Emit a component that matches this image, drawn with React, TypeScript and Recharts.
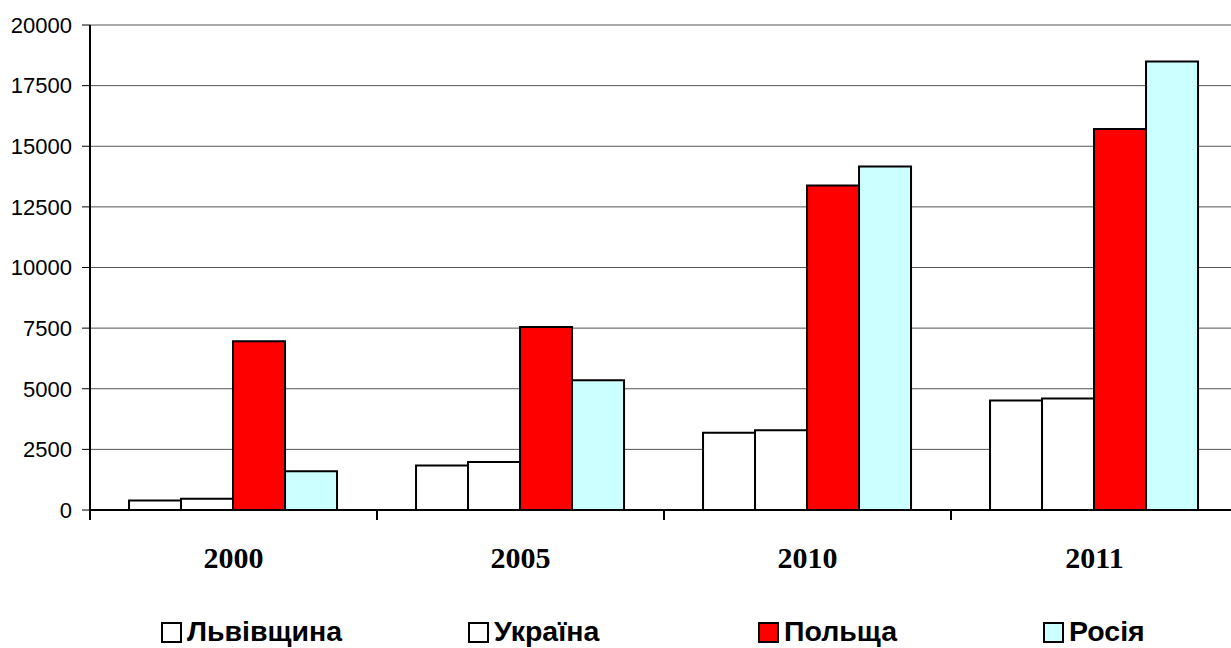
import React from 'react';
import { BarChart, Bar, XAxis, YAxis, CartesianGrid, Legend } from 'recharts';

const years = ['2000', '2005', '2010', '2011'];
const lvivValues = [390, 1840, 3190, 4520];
const ukraineValues = [460, 1980, 3290, 4600];
const polandValues = [6960, 7550, 13380, 15710];
const russiaValues = [1600, 5350, 14170, 18500];
const yTicks = [0, 2500, 5000, 7500, 10000, 12500, 15000, 17500, 20000];

const series = [
  { key: 'lviv', name: 'Львівщина', fill: '#FFFFFF' },
  { key: 'ukraine', name: 'Україна', fill: '#FFFFFF' },
  { key: 'poland', name: 'Польща', fill: '#FF0000' },
  { key: 'russia', name: 'Росія', fill: '#CCFFFF' },
];

// legend item x positions (layout only)
const legendX = [162, 469, 759, 1044];

const data = years.map((year, i) => ({
  year,
  lviv: lvivValues[i],
  ukraine: ukraineValues[i],
  poland: polandValues[i],
  russia: russiaValues[i],
}));

const YearTick = (props: any) => {
  const { x, y, payload, index } = props;
  const half = payload?.offset || 143.5;
  return (
    <g>
      <line x1={x - half} y1={y} x2={x - half} y2={y + 10} stroke="#000" strokeWidth={2} />
      {index === years.length - 1 && (
        <line x1={x + half} y1={y} x2={x + half} y2={y + 10} stroke="#000" strokeWidth={2} />
      )}
      <text
        x={x}
        y={y + 58}
        textAnchor="middle"
        fontFamily='"Times New Roman", "Liberation Serif", serif'
        fontWeight="bold"
        fontSize={30}
        fill="#000"
      >
        {payload.value}
      </text>
    </g>
  );
};

const LegendRow = () => (
  <svg width={1231} height={50} style={{ display: 'block', overflow: 'visible' }}>
    {series.map((s, i) => (
      <g key={s.key}>
        <rect x={legendX[i]} y={25} width={19} height={19} fill={s.fill} stroke="#000" strokeWidth={2} />
        <text
          x={legendX[i] + 25}
          y={43}
          fontFamily='Arial, "Liberation Sans", sans-serif'
          fontWeight="bold"
          fontSize={28.5}
          fill="#000"
        >
          {s.name}
        </text>
      </g>
    ))}
  </svg>
);

export default function App() {
  return (
    <div style={{ position: 'absolute', left: 0, top: 0, width: 1231, height: 648, overflow: 'hidden', background: '#fff' }}>
      <BarChart
        width={1240}
        height={648}
        data={data}
        margin={{ top: 25, right: 2, bottom: 0, left: 0 }}
        barCategoryGap="13.6%"
        barGap={0}
        style={{ fontFamily: 'Arial, "Liberation Sans", sans-serif' }}
      >
        <CartesianGrid vertical={false} stroke="#555" strokeWidth={1} />
        <XAxis
          dataKey="year"
          height={88}
          axisLine={{ stroke: '#000', strokeWidth: 2 }}
          tickLine={false}
          tickSize={0}
          tickMargin={0}
          interval={0}
          tick={<YearTick />}
        />
        <YAxis
          width={90}
          domain={[0, 20000]}
          ticks={yTicks}
          interval={0}
          axisLine={{ stroke: '#000', strokeWidth: 2 }}
          tickLine={{ stroke: '#000', strokeWidth: 1 }}
          tickSize={8}
          tickMargin={10}
          tick={{ fill: '#000', fontSize: 22 }}
        />
        <Legend
          verticalAlign="bottom"
          height={50}
          wrapperStyle={{ left: 0, width: 1231, height: 50 }}
          content={<LegendRow />}
        />
        {series.map((s) => (
          <Bar
            key={s.key}
            dataKey={s.key}
            name={s.name}
            fill={s.fill}
            stroke="#000"
            strokeWidth={2}
            isAnimationActive={false}
          />
        ))}
      </BarChart>
    </div>
  );
}
